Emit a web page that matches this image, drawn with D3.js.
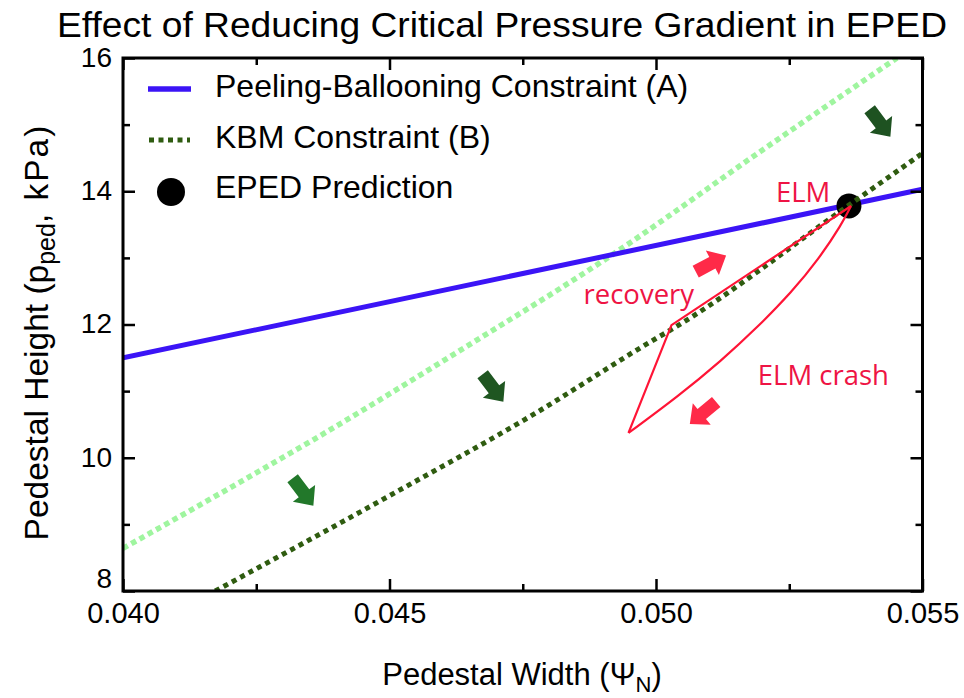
<!DOCTYPE html>
<html>
<head>
<meta charset="utf-8">
<script src="https://cdn.jsdelivr.net/npm/d3@7"></script>
<style>
  html, body { margin: 0; padding: 0; background: #fff; }
  svg { display: block; }
  text { font-family: "Liberation Sans", Arial, Helvetica, sans-serif; }
  .ann { font-family: "Open Sans", sans-serif; }
</style>
</head>
<body>
<svg id="chart" width="964" height="698"></svg>
<script>
// ---------------- data ----------------
const xMajorTicks = [0.040, 0.045, 0.050, 0.055];
const xMinorTicks = [0.0425, 0.0475, 0.0525];
const yMajorTicks = [8, 10, 12, 14, 16];
const yMinorTicks = [9, 11, 13, 15];
const xTickLabels = ["0.040", "0.045", "0.050", "0.055"];
const yTickLabels = ["8", "10", "12", "14", "16"];

// Peeling-Ballooning constraint (A)
const pbWidth  = [0.040, 0.055];
const pbHeight = [11.50, 14.03];

// original KBM constraint (light green)
const kbmOrigWidth  = [0.0400, 0.04144, 0.04357, 0.04695, 0.0482, 0.04909, 0.0520, 0.05452];
const kbmOrigHeight = [8.64,   9.29,    10.27,   11.92,   12.54,  13.00,   14.62,  16.00];

// reduced KBM constraint (B, dark green)
const kbmWidth  = [0.04173, 0.0450, 0.0477, 0.0500, 0.0503, 0.0536, 0.0550];
const kbmHeight = [8.00,    9.43,   10.65,  11.79,  11.93,  13.78,  14.57];

// EPED prediction
const epedWidth  = [0.05362];
const epedHeight = [13.78];

// ELM cycle: recovery (straight) and crash (curved)
const recoveryWidth  = [0.049484, 0.05029, 0.05366];
const recoveryHeight = [10.372,   11.99,   13.779];
const crashWidth  = [0.053659, 0.053441, 0.053032, 0.052522, 0.051910, 0.051203, 0.050392, 0.049484];
const crashHeight = [13.779,   13.462,   12.977,   12.480,   11.973,   11.451,   10.918,   10.372];

// block arrows (centre in data coords, direction in degrees on screen)
const arrowWidth  = [0.043377, 0.046942, 0.054203, 0.051030, 0.050882];
const arrowHeight = [9.486,    11.047,   15.024,   12.915,   10.672];
const arrowAngle  = [53, 53, 53, -28, 140];
const arrowColor  = ["#22782a", "#1f5621", "#1e5221", "#ff2a48", "#ff2a48"];

// annotations
const annText   = ["ELM", "recovery", "ELM crash"];
const annWidth  = [0.05225, 0.04864, 0.05191];
const annHeight = [13.84,   12.31,   11.095];

// legend
const legendLabels = ["Peeling-Ballooning Constraint (A)", "KBM Constraint (B)", "EPED Prediction"];

// ---------------- drawing ----------------
const svg = d3.select("#chart");
const L = 123, R = 922.5, T = 58, B = 591;
const x = d3.scaleLinear().domain([0.040, 0.055]).range([L, R]);
const y = d3.scaleLinear().domain([8, 16]).range([B, T]);

const blue = "#3b14f6", light = "#9ff59f", dark = "#2f5c10", red = "#ff1436", redText = "#ee1444";

// title
svg.append("text")
  .attr("x", 502).attr("y", 37)
  .attr("text-anchor", "middle")
  .attr("font-size", 35)
  .attr("textLength", 890).attr("lengthAdjust", "spacingAndGlyphs")
  .text("Effect of Reducing Critical Pressure Gradient in EPED");

const plot = svg.append("g");
plot.append("clipPath").attr("id", "clip")
  .append("rect").attr("x", L).attr("y", T).attr("width", R - L).attr("height", B - T);
const g = plot.append("g").attr("clip-path", "url(#clip)");

const lineXY = (xs, ys, curve) => d3.line().curve(curve || d3.curveLinear)
  .x((d, i) => x(xs[i])).y((d, i) => y(ys[i]))(xs);

// original KBM (light green dotted)
g.append("path").attr("d", lineXY(kbmOrigWidth, kbmOrigHeight, d3.curveMonotoneX))
  .attr("fill", "none").attr("stroke", light).attr("stroke-width", 5.5)
  .attr("stroke-dasharray", "5.5,4");

// PB line
g.append("path").attr("d", lineXY(pbWidth, pbHeight))
  .attr("fill", "none").attr("stroke", blue).attr("stroke-width", 5);

// EPED point
g.selectAll("circle.eped").data(epedWidth).join("circle")
  .attr("cx", (d) => x(d)).attr("cy", (d, i) => y(epedHeight[i])).attr("r", 12.5)
  .attr("fill", "#000");

// reduced KBM (dark green dotted)
g.append("path").attr("d", lineXY(kbmWidth, kbmHeight, d3.curveMonotoneX))
  .attr("fill", "none").attr("stroke", dark).attr("stroke-width", 5)
  .attr("stroke-dasharray", "5,4.5");

// ELM cycle
g.append("path").attr("d", lineXY(recoveryWidth, recoveryHeight))
  .attr("fill", "none").attr("stroke", red).attr("stroke-width", 2.2).attr("stroke-linejoin", "miter");
g.append("path").attr("d", lineXY(crashWidth, crashHeight, d3.curveNatural))
  .attr("fill", "none").attr("stroke", red).attr("stroke-width", 2.2);

// block arrows
const arrowShape = [[21, 0], [2, 17], [2, 8], [-21, 8], [-21, -8], [2, -8], [2, -17]];
g.selectAll("path.arrow").data(arrowWidth).join("path")
  .attr("class", "arrow")
  .attr("d", "M" + arrowShape.map(p => p.join(",")).join("L") + "Z")
  .attr("transform", (d, i) => `translate(${x(d)},${y(arrowHeight[i])}) rotate(${arrowAngle[i]}) scale(0.82)`)
  .attr("fill", (d, i) => arrowColor[i]);

// annotations
svg.selectAll("text.ann").data(annText).join("text")
  .attr("class", "ann")
  .attr("x", (d, i) => x(annWidth[i])).attr("y", (d, i) => y(annHeight[i]))
  .attr("font-size", 27.5).attr("fill", redText)
  .text(d => d);

// frame
svg.append("rect").attr("x", L).attr("y", T).attr("width", R - L).attr("height", B - T)
  .attr("fill", "none").attr("stroke", "#000").attr("stroke-width", 3);

// axes (ticks inward)
function styleAxis(sel) {
  sel.select(".domain").remove();
  sel.selectAll(".tick line").attr("stroke", "#000").attr("stroke-width", 2.5);
  sel.selectAll(".tick text").attr("font-family", "Liberation Sans, Arial, sans-serif").attr("fill", "#000");
}
// bottom
const xb = svg.append("g").attr("transform", `translate(0,${B})`)
  .call(d3.axisBottom(x).tickValues(xMajorTicks).tickSize(-12)
    .tickFormat((d, i) => xTickLabels[i]));
styleAxis(xb);
xb.selectAll(".tick text").attr("font-size", 29).attr("dy", "0.71em").attr("y", 11);
const xbm = svg.append("g").attr("transform", `translate(0,${B})`)
  .call(d3.axisBottom(x).tickValues(xMinorTicks).tickSize(-7).tickFormat(""));
styleAxis(xbm);
// top
const xt = svg.append("g").attr("transform", `translate(0,${T})`)
  .call(d3.axisTop(x).tickValues(xMajorTicks).tickSize(-12).tickFormat(""));
styleAxis(xt);
const xtm = svg.append("g").attr("transform", `translate(0,${T})`)
  .call(d3.axisTop(x).tickValues(xMinorTicks).tickSize(-7).tickFormat(""));
styleAxis(xtm);
// left
const yl = svg.append("g").attr("transform", `translate(${L},0)`)
  .call(d3.axisLeft(y).tickValues(yMajorTicks).tickSize(-12)
    .tickFormat((d, i) => yTickLabels[i]));
styleAxis(yl);
yl.selectAll(".tick text").attr("font-size", 28).attr("x", -11).attr("dy", "0.3em");
yl.selectAll(".tick").filter(d => d === 8).select("text").attr("dy", "-0.12em");
const ylm = svg.append("g").attr("transform", `translate(${L},0)`)
  .call(d3.axisLeft(y).tickValues(yMinorTicks).tickSize(-7).tickFormat(""));
styleAxis(ylm);
// right
const yr = svg.append("g").attr("transform", `translate(${R},0)`)
  .call(d3.axisRight(y).tickValues(yMajorTicks).tickSize(-12).tickFormat(""));
styleAxis(yr);
const yrm = svg.append("g").attr("transform", `translate(${R},0)`)
  .call(d3.axisRight(y).tickValues(yMinorTicks).tickSize(-7).tickFormat(""));
styleAxis(yrm);

// axis labels
const xl = svg.append("text").attr("x", 522).attr("y", 685).attr("text-anchor", "middle")
  .attr("font-size", 31);
xl.append("tspan").text("Pedestal Width (\u03A8");
xl.append("tspan").attr("font-size", 22).attr("dy", 7).text("N");
xl.append("tspan").attr("dy", -7).text(")");

const ylab = svg.append("text").attr("transform", "translate(48,332) rotate(-90)")
  .attr("text-anchor", "middle").attr("font-size", 33.5);
ylab.append("tspan").text("Pedestal Height (p");
ylab.append("tspan").attr("font-size", 25).attr("dy", 7).text("ped");
ylab.append("tspan").attr("dy", -7).attr("letter-spacing", 2).text(", kPa)");

// legend
const leg = svg.append("g");
leg.append("line").attr("x1", 148).attr("x2", 191).attr("y1", 89).attr("y2", 89)
  .attr("stroke", blue).attr("stroke-width", 5.5);
leg.append("line").attr("x1", 149).attr("x2", 190).attr("y1", 140).attr("y2", 140)
  .attr("stroke", dark).attr("stroke-width", 5).attr("stroke-dasharray", "5,4.5");
leg.append("circle").attr("cx", 171).attr("cy", 192).attr("r", 14).attr("fill", "#000");
leg.selectAll("text").data(legendLabels).join("text")
  .attr("x", 215).attr("y", (d, i) => 97 + i * 50.7)
  .attr("font-size", 32).text(d => d);
</script>
</body>
</html>
